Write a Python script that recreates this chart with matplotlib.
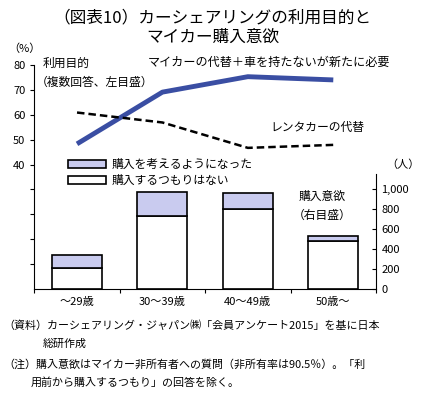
import matplotlib
matplotlib.use("Agg")
import matplotlib.pyplot as plt
from matplotlib.patches import Patch
import numpy as np

plt.rcParams['font.family'] = ['Noto Sans CJK JP', 'DejaVu Sans']

# データ
ages = ["～29歳", "30～39歳", "40～49歳", "50歳～"]
my_car = [48.3, 69.1, 75.3, 74.0]      # マイカーの代替＋車を持たないが新たに必要 (%)
rental = [60.9, 56.9, 46.7, 47.9]      # レンタカーの代替 (%)
no_buy = [207, 727, 800, 483]          # 購入するつもりはない (人)
consider = [130, 246, 163, 47]         # 購入を考えるようになった (人)

left_ticks = [0, 10, 20, 30, 40, 50, 60, 70, 80]
left_labels = ["", "", "", "", "40", "50", "60", "70", "80"]
right_ticks = [0, 200, 400, 600, 800, 1000]
right_labels = ["0", "200", "400", "600", "800", "1,000"]

blue = "#3a4ea3"
lav = "#c9cbef"

fig = plt.figure(figsize=(4.25, 3.96), dpi=100)
ax = fig.add_axes([0.0807, 0.2702, 0.804, 0.5657])
ax2 = ax.twinx()

x = np.arange(len(ages))

# 棒グラフ（右目盛）
ax2.bar(x, no_buy, width=0.585, color="white", edgecolor="black", linewidth=1.2, zorder=2)
ax2.bar(x, consider, bottom=no_buy, width=0.585, color=lav, edgecolor="black", linewidth=1.2, zorder=2)
ax2.set_ylim(0, 2240)
ax2.set_yticks(right_ticks)
ax2.set_yticklabels(right_labels, fontsize=8)
ax2.tick_params(axis='y', direction='in', length=3, pad=4)
ax2.spines['right'].set_bounds(0, 1150)
for s in ['top', 'left', 'bottom']:
    ax2.spines[s].set_visible(False)

# 折れ線（左目盛）
ax.plot(x, my_car, color=blue, lw=3.5, solid_capstyle='butt', zorder=5)
ax.plot(x, rental, color="black", lw=1.8, dashes=(3, 1.6), zorder=5)
ax.set_ylim(-10, 80)
ax.set_yticks(left_ticks)
ax.set_yticklabels(left_labels, fontsize=8)
ax.tick_params(axis='y', direction='out', length=3)
ax.set_xlim(-0.5, 3.5)
ax.set_xticks([-0.5, 0.5, 1.5, 2.5, 3.5])
ax.set_xticklabels([])
ax.tick_params(axis='x', direction='out', length=3)
ax.set_xticks(x, minor=True)
ax.set_xticklabels(ages, minor=True, fontsize=8)
ax.tick_params(axis='x', which='minor', length=0, pad=6)
for s in ['top', 'right']:
    ax.spines[s].set_visible(False)
ax.set_zorder(ax2.get_zorder() + 1)
ax.patch.set_visible(False)

# 凡例
handles = [Patch(facecolor=lav, edgecolor="black", linewidth=1.2),
           Patch(facecolor="white", edgecolor="black", linewidth=1.2)]
fig.legend(handles, ["購入を考えるようになった", "購入するつもりはない"],
           loc="upper left", bbox_to_anchor=(0.145, 0.615), frameon=False,
           fontsize=8.5, handlelength=3.3, handleheight=0.6,
           labelspacing=0.25, handletextpad=0.4, borderpad=0)

# 注記
fig.text(0.5, 0.955, "（図表10）カーシェアリングの利用目的と", ha="center", va="center", fontsize=12)
fig.text(0.5, 0.905, "マイカー購入意欲", ha="center", va="center", fontsize=12)
fig.text(0.02, 0.878, "（%）", ha="left", va="center", fontsize=8)
fig.text(0.10, 0.84, "利用目的", ha="left", va="center", fontsize=8.5)
fig.text(0.085, 0.793, "（複数回答、左目盛）", ha="left", va="center", fontsize=8.5)
fig.text(0.348, 0.843, "マイカーの代替＋車を持たないが新たに必要", ha="left", va="center", fontsize=8.7)
fig.text(0.635, 0.677, "レンタカーの代替", ha="left", va="center", fontsize=8.5)
fig.text(0.91, 0.583, "（人）", ha="left", va="center", fontsize=8)
fig.text(0.758, 0.503, "購入意欲", ha="center", va="center", fontsize=8.5)
fig.text(0.758, 0.457, "（右目盛）", ha="center", va="center", fontsize=8.5)

fig.text(0.008, 0.178, "（資料）カーシェアリング・ジャパン㈱「会員アンケート2015」を基に日本", ha="left", va="center", fontsize=7.9)
fig.text(0.1, 0.132, "総研作成", ha="left", va="center", fontsize=7.9)
fig.text(0.008, 0.08, "（注）購入意欲はマイカー非所有者への質問（非所有率は90.5％）。「利", ha="left", va="center", fontsize=7.9)
fig.text(0.072, 0.033, "用前から購入するつもり」の回答を除く。", ha="left", va="center", fontsize=7.9)

fig.savefig("out.png", dpi=100)
